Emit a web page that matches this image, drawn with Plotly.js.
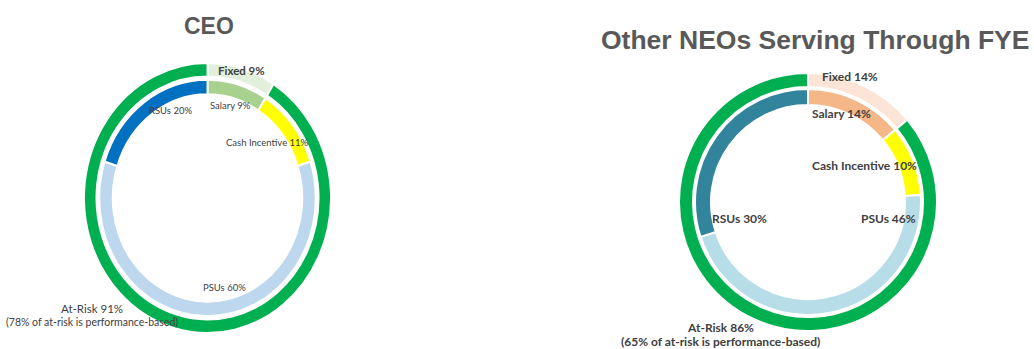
<!DOCTYPE html>
<html>
<head>
<meta charset="utf-8">
<script src="https://cdn.plot.ly/plotly-3.0.1.min.js"></script>
<style>
  html, body { margin: 0; padding: 0; background: #ffffff; }
  #wrap { position: relative; width: 1034px; height: 349px; overflow: hidden; }
  #ceoRings, #chart { position: absolute; left: 0; top: 0; width: 1034px; height: 349px; }
  #ceoRings { z-index: 0; }
  #chart { z-index: 1; }
</style>
</head>
<body>
<div id="wrap">
  <div id="ceoRings"></div>
  <div id="chart"></div>
</div>
<script>
// ---- Data ----
const chartTitles = ['CEO', 'Other NEOs Serving Through FYE'];

const outerLabels = ['Fixed', 'At-Risk'];
const ceoOuterValues = [9, 91];
const neoOuterValues = [14, 86];

const innerLabels = ['Salary', 'Cash Incentive', 'PSUs', 'RSUs'];
const ceoInnerValues = [9, 11, 60, 20];
const neoInnerValues = [14, 10, 46, 30];

const ceoPerfBasedShare = 78;
const neoPerfBasedShare = 65;

// ---- Styles ----
const W = 1034, H = 349;
const ceoOuterColors = ['#e2efda', '#00b050'];
const ceoInnerColors = ['#a9d18e', '#ffff00', '#bdd7ee', '#0070c0'];
const neoOuterColors = ['#fce4d6', '#00b050'];
const neoInnerColors = ['#f5b788', '#ffff00', '#b7dde8', '#31849b'];

function px2x(px) { return px / W; }
function px2y(py) { return 1 - py / H; }

function ring(labels, values, colors, cx, cy, R, thickness) {
  return {
    type: 'pie',
    labels: labels,
    values: values,
    sort: false,
    direction: 'clockwise',
    rotation: 0,
    hole: (R - thickness) / R,
    textinfo: 'none',
    hoverinfo: 'label+percent',
    showlegend: false,
    marker: { colors: colors, line: { color: '#ffffff', width: 2 } },
    domain: {
      x: [px2x(cx - R), px2x(cx + R)],
      y: [px2y(cy + R), px2y(cy - R)]
    }
  };
}

// geometry (CEO rings are drawn round, then stretched into the slight oval of the original)
const ceo = { cx: 207.5, cy: 198, R: 129, outerT: 13, gap: 3, innerT: 14, sx: 247 / 258, sy: 270 / 258 };
const neo = { cx: 808, cy: 202, R: 129, outerT: 14, gap: 2, innerT: 16 };

const ceoData = [
  ring(outerLabels, ceoOuterValues, ceoOuterColors, ceo.cx, ceo.cy, ceo.R, ceo.outerT),
  ring(innerLabels, ceoInnerValues, ceoInnerColors, ceo.cx, ceo.cy, ceo.R - ceo.outerT - ceo.gap, ceo.innerT)
];
const neoData = [
  ring(outerLabels, neoOuterValues, neoOuterColors, neo.cx, neo.cy, neo.R, neo.outerT),
  ring(innerLabels, neoInnerValues, neoInnerColors, neo.cx, neo.cy, neo.R - neo.outerT - neo.gap, neo.innerT)
];

const labelFont = 'Lato, "Open Sans", sans-serif';
const textColor = '#404040';

function ann(text, px, py, size, bold) {
  return {
    text: bold ? '<b>' + text + '</b>' : text,
    x: px2x(px), y: px2y(py), xref: 'paper', yref: 'paper',
    xanchor: 'center', yanchor: 'middle', showarrow: false,
    font: { family: labelFont, size: size, color: textColor }
  };
}
function pct(label, v) { return label + ' ' + v + '%'; }

const annotations = [
  // titles
  {
    text: '<b>' + chartTitles[0] + '</b>', x: px2x(209), y: px2y(26), xref: 'paper', yref: 'paper',
    xanchor: 'center', yanchor: 'middle', showarrow: false,
    font: { family: '"Liberation Sans", Arial, sans-serif', size: 23, color: '#595959' }
  },
  {
    text: '<b>' + chartTitles[1] + '</b>', x: px2x(815), y: px2y(40), xref: 'paper', yref: 'paper',
    xanchor: 'center', yanchor: 'middle', showarrow: false,
    font: { family: '"Liberation Sans", Arial, sans-serif', size: 26.5, color: '#595959' }
  },
  // CEO labels
  ann(pct(outerLabels[0], ceoOuterValues[0]), 241, 70, 11.5, true),
  ann(pct(innerLabels[0], ceoInnerValues[0]), 230, 105, 9.5, false),
  ann(pct(innerLabels[1], ceoInnerValues[1]), 267, 142, 9.5, false),
  ann(pct(innerLabels[2], ceoInnerValues[2]), 224, 287, 9.5, false),
  ann(pct(innerLabels[3], ceoInnerValues[3]), 170, 110, 9.5, false),
  ann(pct(outerLabels[1], ceoOuterValues[1]), 92, 308, 11.5, false),
  ann('(' + ceoPerfBasedShare + '% of at-risk is performance-based)', 92, 322, 10.5, false),
  // NEO labels
  ann(pct(outerLabels[0], neoOuterValues[0]), 850, 76, 12, true),
  ann(pct(innerLabels[0], neoInnerValues[0]), 841, 113, 12, true),
  ann(pct(innerLabels[1], neoInnerValues[1]), 864, 166, 12, true),
  ann(pct(innerLabels[2], neoInnerValues[2]), 888, 218, 12, true),
  ann(pct(innerLabels[3], neoInnerValues[3]), 739, 218, 12, true),
  ann(pct(outerLabels[1], neoOuterValues[1]), 720, 327, 12, true),
  ann('(' + neoPerfBasedShare + '% of at-risk is performance-based)', 720, 341, 12, true)
];

const baseLayout = {
  width: W, height: H,
  margin: { l: 0, r: 0, t: 0, b: 0, pad: 0 },
  showlegend: false
};

const ceoLayout = Object.assign({}, baseLayout, { paper_bgcolor: '#ffffff', plot_bgcolor: '#ffffff' });
const mainLayout = Object.assign({}, baseLayout, {
  paper_bgcolor: 'rgba(0,0,0,0)', plot_bgcolor: 'rgba(0,0,0,0)',
  annotations: annotations
});

const cfg = { displayModeBar: false, staticPlot: true };
const ceoDiv = document.getElementById('ceoRings');
ceoDiv.style.transformOrigin = ceo.cx + 'px ' + ceo.cy + 'px';
ceoDiv.style.transform = 'scale(' + ceo.sx + ',' + ceo.sy + ')';
Plotly.newPlot(ceoDiv, ceoData, ceoLayout, cfg);
Plotly.newPlot('chart', neoData, mainLayout, cfg);
</script>
</body>
</html>
